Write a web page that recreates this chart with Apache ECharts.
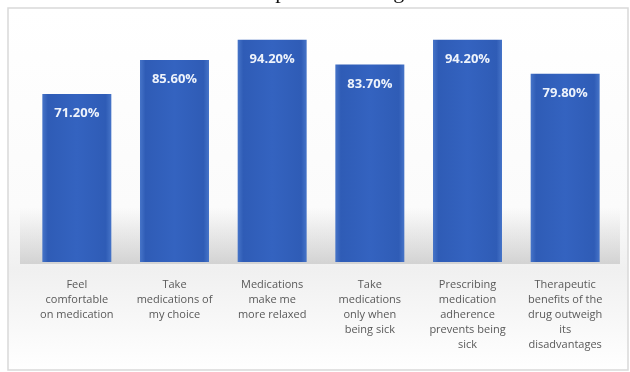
<!DOCTYPE html>
<html>
<head>
<meta charset="utf-8">
<script src="https://cdn.jsdelivr.net/npm/echarts@6/dist/echarts.min.js"></script>
<style>
  html, body { margin: 0; padding: 0; background: #fff; }
  #main { width: 630px; height: 372px; }
</style>
</head>
<body>
<div id="main"></div>
<script>
const categories = [
  'Feel\ncomfortable\non medication',
  'Take\nmedications of\nmy choice',
  'Medications\nmake me\nmore relaxed',
  'Take\nmedications\nonly when\nbeing sick',
  'Prescribing\nmedication\nadherence\nprevents being\nsick',
  'Therapeutic\nbenefits of the\ndrug outweigh\nits\ndisadvantages'
]
const values = [71.2, 85.6, 94.2, 83.7, 94.2, 79.8]

const chart = echarts.init(document.getElementById('main'), null, { renderer: 'canvas' })

const barColor = new echarts.graphic.LinearGradient(0, 0, 1, 0, [
  { offset: 0, color: '#4674c8' },
  { offset: 0.08, color: '#2f5cb6' },
  { offset: 0.5, color: '#3463c0' },
  { offset: 0.92, color: '#2f5cb6' },
  { offset: 1, color: '#4674c8' }
])

chart.setOption({
  animation: false,
  graphic: [
    // chart frame with soft background
    {
      type: 'rect', z: -10,
      shape: { x: 8, y: 8, width: 620, height: 362 },
      style: {
        fill: new echarts.graphic.LinearGradient(0, 0, 0, 1, [
          { offset: 0, color: '#ffffff' },
          { offset: 0.55, color: '#fbfbfb' },
          { offset: 0.72, color: '#f0f0f0' },
          { offset: 1, color: '#ffffff' }
        ]),
        stroke: '#d9d9d9', lineWidth: 1.5
      }
    },
    // floor shadow behind bars
    {
      type: 'rect', z: -9,
      shape: { x: 20, y: 208, width: 600, height: 56 },
      style: {
        fill: new echarts.graphic.LinearGradient(0, 0, 0, 1, [
          { offset: 0, color: 'rgba(200,200,200,0)' },
          { offset: 0.5, color: 'rgba(195,195,195,0.3)' },
          { offset: 1, color: 'rgba(180,180,180,0.5)' }
        ])
      }
    },
    // cut-off line of the surrounding document text
    {
      type: 'text', left: 20, top: -19,
      style: {
        text: 'education and the adherence prevents being sick.',
        font: '22px "Liberation Serif"', fill: '#111'
      }
    }
  ],
  grid: { left: 28, right: 16, top: 26, bottom: 110 },
  xAxis: {
    type: 'category',
    data: categories,
    axisLine: { show: false },
    axisTick: { show: false },
    axisLabel: {
      interval: 0,
      margin: 15,
      color: '#595959',
      fontFamily: 'Open Sans',
      fontSize: 11,
      lineHeight: 15,
      align: 'center'
    }
  },
  yAxis: {
    type: 'value',
    min: 0, max: 100,
    show: false,
    splitLine: { show: false }
  },
  series: [{
    type: 'bar',
    data: values,
    barWidth: 69,
    itemStyle: { color: barColor },
    label: {
      show: true,
      position: 'insideTop',
      distance: 13,
      color: '#eef3fb',
      fontFamily: 'Open Sans',
      fontWeight: 'bold',
      fontSize: 13,
      formatter: p => p.value.toFixed(2) + '%'
    }
  }]
})
</script>
</body>
</html>
